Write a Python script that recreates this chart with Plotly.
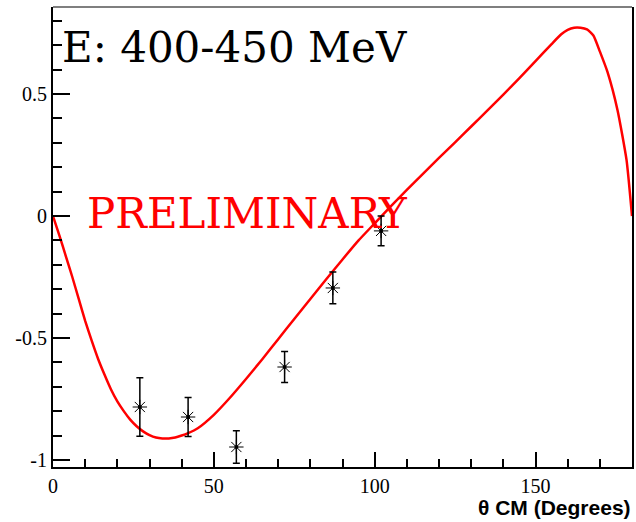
import plotly.graph_objects as go

# Model curve
curve_theta = [0, 2, 4, 6, 8, 10, 12, 14, 16, 18, 20, 22, 24, 26, 28, 30, 32, 34, 36, 38,
               40, 42, 45, 50, 55, 60, 65, 70, 75, 80, 85, 90, 95, 100, 105, 110, 115,
               120, 125, 130, 135, 140, 145, 150, 155, 158, 160, 162, 164, 166, 168,
               170, 172.4, 175.5, 178.3, 180]
curve_value = [0, -0.08, -0.165, -0.25, -0.34, -0.43, -0.51, -0.585, -0.65, -0.71, -0.76,
               -0.80, -0.835, -0.862, -0.883, -0.898, -0.908, -0.912, -0.912, -0.908,
               -0.90, -0.89, -0.87, -0.815, -0.745, -0.668, -0.588, -0.505, -0.422,
               -0.34, -0.258, -0.178, -0.10, -0.03, 0.04, 0.107, 0.173, 0.238, 0.302,
               0.367, 0.432, 0.498, 0.565, 0.635, 0.705, 0.745, 0.763, 0.772, 0.772,
               0.765, 0.74, 0.675, 0.59, 0.434, 0.23, 0.0]

# Measured data points
data_theta = [27, 42, 57, 72, 87, 102]
data_value = [-0.783, -0.824, -0.947, -0.619, -0.295, -0.061]
data_error = [0.12, 0.08, 0.067, 0.064, 0.065, 0.061]

y_tickvals = [-1, -0.5, 0, 0.5]
y_ticktext = ["-1", "-0.5", "0", "0.5"]
x_tickvals = [0, 50, 100, 150]
x_ticktext = ["0", "50", "100", "150"]

fig = go.Figure()
fig.add_trace(go.Scatter(
    x=curve_theta, y=curve_value, mode="lines",
    line=dict(color="#ff0000", width=2.5, shape="spline", smoothing=0.5),
    hoverinfo="skip", showlegend=False))
fig.add_trace(go.Scatter(
    x=data_theta, y=data_value, mode="markers",
    marker=dict(symbol="asterisk-open", size=12, color="black",
                line=dict(color="#333333", width=1)),
    error_y=dict(type="data", array=data_error, visible=True,
                 color="black", thickness=1.5, width=3.5),
    showlegend=False))
fig.add_trace(go.Scatter(
    x=data_theta, y=data_value, mode="markers",
    marker=dict(symbol="circle", size=4, color="black"),
    hoverinfo="skip", showlegend=False))

fig.update_layout(
    width=636, height=522,
    margin=dict(l=53, r=2, t=7, b=55),
    paper_bgcolor="white", plot_bgcolor="white",
    font=dict(family="Liberation Serif", size=20, color="black"),
    xaxis=dict(range=[0, 180], showgrid=False, zeroline=False,
               showline=True, linecolor="black", linewidth=2,
               ticks="inside", ticklen=15, tickwidth=1.5, tickcolor="black",
               tickvals=x_tickvals, ticktext=x_ticktext,
               tickfont=dict(family="Liberation Serif", size=20),
               minor=dict(ticks="inside", ticklen=8, tickwidth=1.5,
                          tickcolor="black", dtick=10, tick0=0, showgrid=False)),
    yaxis=dict(range=[-1.029, 0.857], showgrid=False, zeroline=False,
               showline=True, linecolor="black", linewidth=2, mirror=True,
               ticks="inside", ticklen=17, tickwidth=1.5, tickcolor="black",
               tickvals=y_tickvals, ticktext=y_ticktext,
               tickfont=dict(family="Liberation Serif", size=20),
               minor=dict(ticks="inside", ticklen=9, tickwidth=1.5,
                          tickcolor="black", dtick=0.1, tick0=0, showgrid=False)),
    shapes=[dict(type="line", xref="paper", yref="paper", x0=0, x1=1, y0=1, y1=1,
                 line=dict(color="#555555", width=1.5))],
    annotations=[
        dict(text="E: 400-450 MeV", xref="x", yref="y", x=2.2, y=0.69,
             xanchor="left", yanchor="middle", showarrow=False,
             font=dict(family="DejaVu Serif", size=42, color="black")),
        dict(text="PRELIMINARY", xref="x", yref="y", x=10.0, y=0.01,
             xanchor="left", yanchor="middle", showarrow=False,
             font=dict(family="DejaVu Serif", size=42, color="#ff0000")),
        dict(text="θ CM (Degrees)", xref="paper", yref="paper", x=1, y=-0.089,
             xanchor="right", yanchor="middle", xshift=1, showarrow=False,
             font=dict(family="Liberation Sans", size=21, color="black", weight="bold")),
    ],
)

fig.write_html("out.html", config={"displayModeBar": False},
               post_script="document.body.style.margin='0';document.body.style.padding='0';")
